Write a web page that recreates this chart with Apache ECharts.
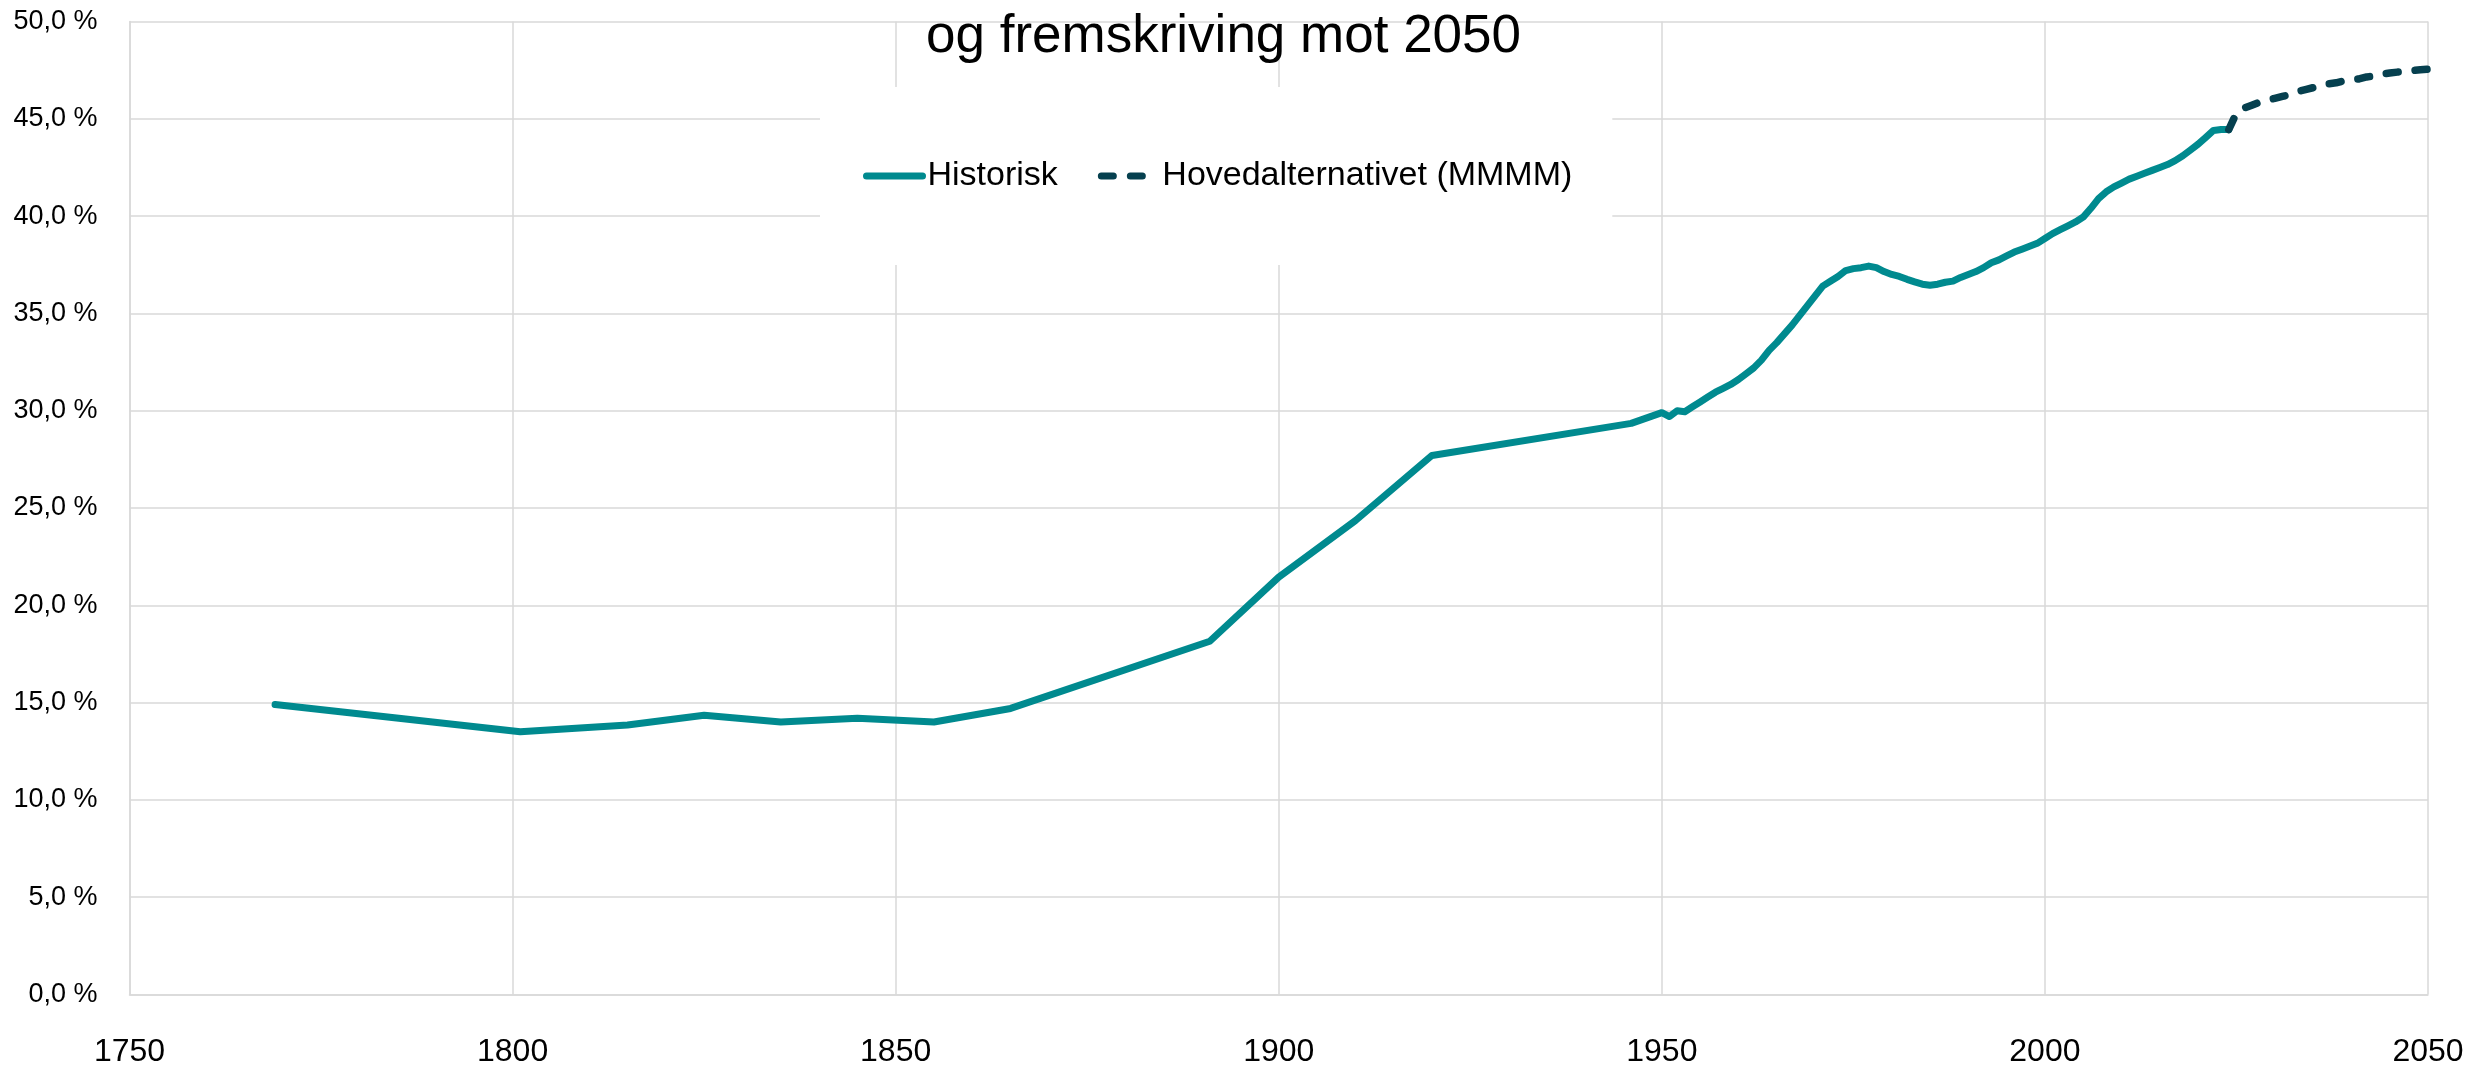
<!DOCTYPE html>
<html>
<head>
<meta charset="utf-8">
<script src="https://cdn.jsdelivr.net/npm/echarts@6/dist/echarts.min.js"></script>
<style>
  html, body { margin: 0; padding: 0; background: #fff; }
  #chart { width: 2484px; height: 1073px; }
</style>
</head>
<body>
<div id="chart"></div>
<script>
// historiske tall (tellinger, deretter årlige)
const histYears = [1769, 1801, 1815, 1825, 1835, 1845, 1855, 1865, 1891, 1900, 1910, 1920, 1946, 1950,
  1951, 1952, 1953, 1954, 1955, 1956, 1957, 1958, 1959, 1960, 1961, 1962, 1963, 1964, 1965, 1966, 1967, 1968, 1969,
  1970, 1971, 1972, 1973, 1974, 1975, 1976, 1977, 1978, 1979, 1980, 1981, 1982, 1983, 1984, 1985, 1986, 1987, 1988, 1989,
  1990, 1991, 1992, 1993, 1994, 1995, 1996, 1997, 1998, 1999, 2000, 2001, 2002, 2003, 2004, 2005, 2006, 2007, 2008, 2009,
  2010, 2011, 2012, 2013, 2014, 2015, 2016, 2017, 2018, 2019, 2020, 2021, 2022, 2023, 2024]
const histValues = [14.9, 13.5, 13.85, 14.35, 14.0, 14.2, 14.0, 14.7, 18.15, 21.45, 24.35, 27.7, 29.35, 29.9,
  29.7, 30.0, 29.95, 30.2, 30.45, 30.7, 30.95, 31.15, 31.35, 31.6, 31.9, 32.2, 32.6, 33.1, 33.5, 33.95, 34.4, 34.9, 35.4,
  35.9, 36.4, 36.65, 36.9, 37.2, 37.3, 37.35, 37.43, 37.35, 37.15, 37.0, 36.9, 36.75, 36.62, 36.5, 36.45, 36.5, 36.6, 36.66, 36.85,
  37.0, 37.15, 37.35, 37.6, 37.75, 37.95, 38.15, 38.3, 38.45, 38.6, 38.85, 39.1, 39.3, 39.5, 39.7, 39.95, 40.4, 40.9, 41.25, 41.5,
  41.7, 41.9, 42.05, 42.2, 42.35, 42.5, 42.65, 42.85, 43.1, 43.4, 43.7, 44.05, 44.4, 44.45, 44.45]

// hovedalternativet (MMMM)
const projYears = [2024, 2025, 2026, 2027, 2028, 2029, 2030, 2031, 2032, 2033, 2034, 2035, 2036, 2037,
  2038, 2039, 2040, 2041, 2042, 2043, 2044, 2045, 2046, 2047, 2048, 2049, 2050]
const projValues = [44.45, 45.3, 45.55, 45.7, 45.85, 45.95, 46.05, 46.15, 46.25, 46.4, 46.5, 46.6, 46.7, 46.8,
  46.85, 46.95, 47.0, 47.05, 47.15, 47.2, 47.3, 47.35, 47.4, 47.45, 47.48, 47.52, 47.55]

const FONT = 'Liberation Sans'
const gridColor = '#d9d9d9'

const chart = echarts.init(document.getElementById('chart'))

chart.setOption({
    animation: false,
    title: {
        text: 'og fremskriving mot 2050',
        left: 921,
        top: 6,
        textStyle: { fontFamily: FONT, fontSize: 53, fontWeight: 'normal', color: '#000' }
    },
    legend: {
        left: 820,
        top: 87,
        padding: [72, 40, 72, 43],
        backgroundColor: '#fff',
        itemWidth: 56,
        itemHeight: 20,
        itemGap: 40,
        itemStyle: { opacity: 0 },
        lineStyle: { width: 7, cap: 'round' },
        textStyle: { fontFamily: FONT, fontSize: 34, color: '#000' },
        data: ['Historisk', 'Hovedalternativet (MMMM)']
    },
    grid: { left: 129.5, right: 56, top: 21.5, bottom: 78.5 },
    xAxis: {
        type: 'value',
        min: 1750, max: 2050, interval: 50,
        axisLine: { lineStyle: { color: gridColor, width: 1.5 } },
        axisTick: { show: false },
        splitLine: { show: true, lineStyle: { color: gridColor, width: 1.5 } },
        axisLabel: { fontFamily: FONT, fontSize: 32, color: '#000', margin: 42, formatter: v => String(v) }
    },
    yAxis: {
        type: 'value',
        min: 0, max: 50, interval: 5,
        axisLine: { show: true, lineStyle: { color: gridColor, width: 1.5 } },
        axisTick: { show: false },
        splitLine: { show: true, lineStyle: { color: gridColor, width: 1.5 } },
        axisLabel: {
            fontFamily: FONT, fontSize: 27, color: '#000', margin: 32,
            formatter: v => v.toFixed(1).replace('.', ',') + ' %'
        }
    },
    series: [
        {
            name: 'Historisk',
            type: 'line',
            symbol: 'none',
            color: '#008a8f',
            lineStyle: { width: 7, color: '#008a8f', cap: 'round', join: 'round' },
            data: histYears.map((y, i) => [y, histValues[i]])
        },
        {
            name: 'Hovedalternativet (MMMM)',
            type: 'line',
            symbol: 'none',
            color: '#06404f',
            lineStyle: { width: 7.5, color: '#06404f', type: [12, 17], cap: 'round', join: 'round' },
            data: projYears.map((y, i) => [y, projValues[i]])
        }
    ]
})
</script>
</body>
</html>
